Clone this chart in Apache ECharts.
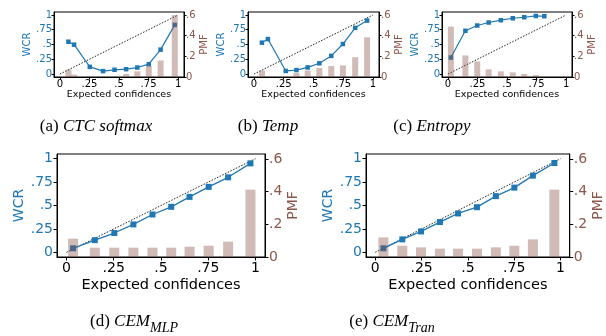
<!DOCTYPE html>
<html><head><meta charset="utf-8">
<script src="https://cdn.jsdelivr.net/npm/echarts@6/dist/echarts.min.js"></script>
<style>html,body{margin:0;padding:0;background:#fff}#c{width:606px;height:336px}</style>
</head><body><div id="c"></div>
<script>
// ---- tick labels / names ----
const xTicks = [0, 0.25, 0.5, 0.75, 1];
const xTickLabels = ['0', '.25', '.5', '.75', '1'];
const wcrTicks = [0, 0.25, 0.5, 0.75, 1];
const wcrTickLabels = ['0', '.25', '.5', '.75', '1'];
const pmfTicks = [0, 0.2, 0.4, 0.6];
const pmfTickLabels = ['0', '.2', '.4', '.6'];
const xName = 'Expected confidences';
const leftName = 'WCR';
const rightName = 'PMF';
const diagonal = [[0, 0], [1, 1]];

// ---- (a) CTC softmax ----
const confA = [0.072, 0.120, 0.253, 0.365, 0.462, 0.560, 0.655, 0.752, 0.852, 0.972];
const wcrA  = [0.547, 0.497, 0.122, 0.050, 0.072, 0.082, 0.110, 0.167, 0.413, 0.832];
const pmfA  = [0.071, 0.023, 0.002, 0.002, 0.003, 0.029, 0.055, 0.106, 0.160, 0.600];
// ---- (b) Temp ----
const confB = [0.067, 0.117, 0.267, 0.357, 0.451, 0.549, 0.649, 0.747, 0.850, 0.950];
const wcrB  = [0.531, 0.592, 0.052, 0.067, 0.112, 0.182, 0.307, 0.508, 0.782, 0.905];
const pmfB  = [0.064, 0.003, 0.003, 0.038, 0.064, 0.087, 0.106, 0.112, 0.192, 0.385];
// ---- (c) Entropy ----
const confC = [0.025, 0.148, 0.248, 0.345, 0.448, 0.549, 0.646, 0.744, 0.816];
const wcrC  = [0.279, 0.732, 0.821, 0.872, 0.911, 0.944, 0.961, 0.983, 0.978];
const pmfC  = [0.488, 0.209, 0.151, 0.074, 0.055, 0.045, 0.029, 0.019, 0.002];
// ---- (d) CEM_MLP ----
const confD = [0.035, 0.150, 0.253, 0.354, 0.455, 0.554, 0.651, 0.752, 0.855, 0.973];
const wcrD  = [0.043, 0.130, 0.206, 0.298, 0.404, 0.486, 0.592, 0.699, 0.801, 0.950];
const pmfD  = [0.112, 0.057, 0.057, 0.057, 0.057, 0.057, 0.063, 0.069, 0.094, 0.412];
// ---- (e) CEM_Tran ----
const confE = [0.044, 0.146, 0.247, 0.349, 0.447, 0.549, 0.651, 0.751, 0.851, 0.967];
const wcrE  = [0.043, 0.138, 0.223, 0.323, 0.415, 0.482, 0.600, 0.691, 0.819, 0.954];
const pmfE  = [0.120, 0.069, 0.059, 0.051, 0.051, 0.051, 0.059, 0.069, 0.108, 0.412];

const captionA = '(a) {i|CTC softmax}';
const captionB = '(b) {i|Temp}';
const captionC = '(c) {i|Entropy}';
const captionD = '(d) {i|CEM}{s|MLP}';
const captionE = '(e) {i|CEM}{s|Tran}';

const BLUE = '#1f77b4', BROWN = '#8c564b', SANS = 'DejaVu Sans', SERIF = 'Liberation Serif';

const small = {fs: 10, nameFs: 9.5, yNameFs: 10, sym: 4.5, barW: 6, tick: 2.5, margin: 2, xGap: 13, lGap: 19, rGap: 13, lw: 1.2};
const big = {fs: 14, nameFs: 14.5, yNameFs: 14, sym: 6, barW: 10, tick: 3.5, margin: 4, xGap: 21, lGap: 30, rGap: 20, lw: 1.3};

const panels = [
  {conf: confA, wcr: wcrA, pmf: pmfA, g: {left: 54, top: 12, width: 130, height: 65}, s: small},
  {conf: confB, wcr: wcrB, pmf: pmfB, g: {left: 248, top: 12, width: 131, height: 65}, s: small},
  {conf: confC, wcr: wcrC, pmf: pmfC, g: {left: 442, top: 12, width: 130, height: 65}, s: small},
  {conf: confD, wcr: wcrD, pmf: pmfD, g: {left: 57, top: 154, width: 208, height: 103}, s: big},
  {conf: confE, wcr: wcrE, pmf: pmfE, g: {left: 366, top: 154, width: 206, height: 103}, s: big}
];

function fmt(ticks, labels) {
  return v => { for (let k = 0; k < ticks.length; k++) if (Math.abs(v - ticks[k]) < 1e-9) return labels[k]; return ''; };
}

const grid = [], xAxis = [], yAxis = [], series = [];
panels.forEach((p, i) => {
  const s = p.s;
  grid.push(Object.assign({show: true, borderColor: '#000', borderWidth: 1, backgroundColor: 'transparent'}, p.g));
  xAxis.push({
    gridIndex: i, type: 'value', min: -0.05, max: 1.05,
    axisLine: {onZero: false, lineStyle: {color: '#000', width: 1}},
    axisTick: {customValues: xTicks, length: s.tick, lineStyle: {color: '#000'}},
    axisLabel: {customValues: xTicks, formatter: fmt(xTicks, xTickLabels), color: '#000', fontSize: s.fs, fontFamily: SANS, margin: s.margin},
    splitLine: {show: false},
    name: xName, nameLocation: 'middle', nameGap: s.xGap,
    nameTextStyle: {color: '#000', fontSize: s.nameFs, fontFamily: SANS}
  });
  yAxis.push({
    gridIndex: i, type: 'value', position: 'left', min: -0.05, max: 1.05,
    axisLine: {show: true, onZero: false, lineStyle: {color: '#000', width: 1}},
    axisTick: {show: true, customValues: wcrTicks, length: s.tick, lineStyle: {color: '#000'}},
    axisLabel: {customValues: wcrTicks, formatter: fmt(wcrTicks, wcrTickLabels), color: BLUE, fontSize: s.fs, fontFamily: SANS, margin: s.margin},
    splitLine: {show: false},
    name: leftName, nameLocation: 'middle', nameRotate: 90, nameGap: s.lGap,
    nameTextStyle: {color: BLUE, fontSize: s.yNameFs, fontFamily: SANS}
  });
  yAxis.push({
    gridIndex: i, type: 'value', position: 'right', min: 0, max: 0.63,
    axisLine: {show: true, onZero: false, lineStyle: {color: '#000', width: 1}},
    axisTick: {show: true, customValues: pmfTicks, length: s.tick, lineStyle: {color: '#000'}},
    axisLabel: {customValues: pmfTicks, formatter: fmt(pmfTicks, pmfTickLabels), color: BROWN, fontSize: s.fs, fontFamily: SANS, margin: s.margin},
    splitLine: {show: false},
    name: rightName, nameLocation: 'middle', nameRotate: 90, nameGap: s.rGap,
    nameTextStyle: {color: BROWN, fontSize: s.yNameFs, fontFamily: SANS}
  });
  series.push({
    type: 'line', xAxisIndex: i, yAxisIndex: 2 * i, data: diagonal, symbol: 'none', silent: true, z: 1,
    lineStyle: {color: '#222', type: [1.5, 1.5], width: 1}
  });
  series.push({
    type: 'line', xAxisIndex: i, yAxisIndex: 2 * i, z: 2,
    data: p.conf.map((c, k) => [c, p.wcr[k]]),
    symbol: 'rect', symbolSize: s.sym,
    itemStyle: {color: BLUE}, lineStyle: {color: BLUE, width: s.lw}
  });
  series.push({
    type: 'bar', xAxisIndex: i, yAxisIndex: 2 * i + 1, z: 3,
    data: p.conf.map((c, k) => [c, p.pmf[k]]),
    barWidth: s.barW,
    itemStyle: {color: BROWN, opacity: 0.4}
  });
});

const capRich = {
  n: {fontFamily: SERIF, fontSize: 17, lineHeight: 26, color: '#000'},
  i: {fontFamily: SERIF, fontSize: 17, fontStyle: 'italic', lineHeight: 26, color: '#000'},
  s: {fontFamily: SERIF, fontSize: 14, fontStyle: 'italic', lineHeight: 14, verticalAlign: 'bottom', color: '#000'}
};
function cap(text, x, y) {
  return {type: 'text', x: x, y: y, silent: true,
    style: {text: text.replace(/^\(([a-e])\) /, '{n|($1) }'), rich: capRich, fontFamily: SERIF, fontSize: 17,
      align: 'center', verticalAlign: 'top', textAlign: 'center', textVerticalAlign: 'top', fill: '#000'}};
}

const chart = echarts.init(document.getElementById('c'), null, {renderer: 'canvas'});
chart.setOption({
  animation: false,
  backgroundColor: '#fff',
  grid, xAxis, yAxis, series,
  graphic: [
    cap(captionA, 96, 114),
    cap(captionB, 268, 114),
    cap(captionC, 432, 114),
    cap(captionD, 134, 309),
    cap(captionE, 392, 309)
  ]
});
</script></body></html>
